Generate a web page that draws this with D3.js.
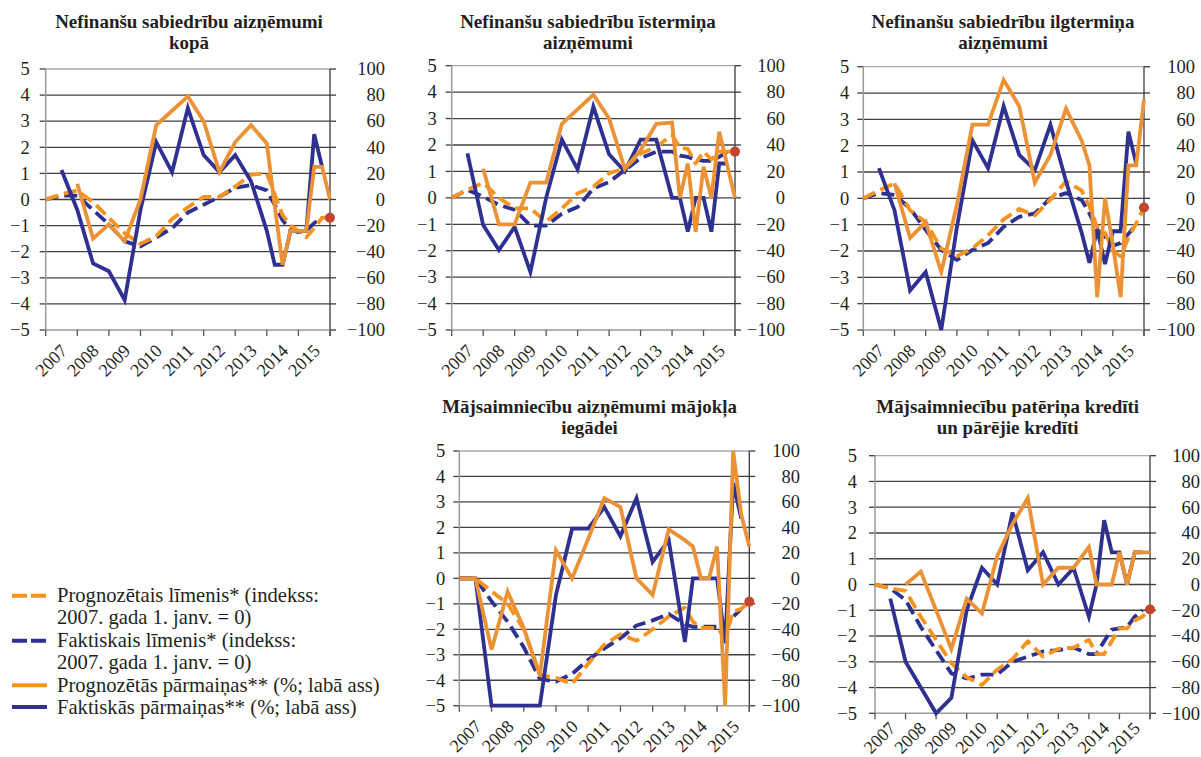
<!DOCTYPE html>
<html><head><meta charset="utf-8">
<script src="https://cdn.jsdelivr.net/npm/d3@7"></script>
<style>
body{margin:0;background:#fff}
svg{display:block}
text{font-family:"Liberation Serif","Times New Roman",serif;fill:#231f20}
</style>
</head><body>
<svg id="c" width="1201" height="757"></svg>
<script>
// ---- data ----
const dates = [2007,2007.5,2008,2008.5,2009,2009.5,2010,2010.5,2011,2011.5,2012,2012.5,2013,2013.5,2014,2014.25,2014.5,2014.75,2015,2015.25,2015.5,2015.75,2016];
const yearLabels = ["2007","2008","2009","2010","2011","2012","2013","2014","2015"];
const leftTicks = [-5,-4,-3,-2,-1,0,1,2,3,4,5];
const rightTicks = [-100,-80,-60,-40,-20,0,20,40,60,80,100];

const kopaTitle = ["Nefinanšu sabiedrību aizņēmumi","kopā"];
const kopaFcLevel = [0,0.2,0.35,-0.1,-0.7,-1.3,-1.7,-1.4,-0.75,-0.3,0.1,0.1,0.5,0.95,1.0,0.2,-0.6,-1.0,-1.2,-1.45,-1.1,-0.7,-0.7];
const kopaActLevel = [0,0.15,0.15,-0.4,-0.95,-1.6,-1.8,-1.45,-1.1,-0.5,-0.2,0.1,0.45,0.55,0.35,-0.2,-0.8,-1.15,-1.25,-1.2,-0.9,-0.7,null];
const kopaFcChange = [null,null,12,-30,-19,-32,0,57,68,79,60,21,44,57,43,-5,-50,-24,-24,-24,25,25,0];
const kopaActChange = [null,22.6,-8,-49,-55,-77,-8,44,21,70,34,21,34,14,-24,-50,-50,-24,-24,-24,50,25,null];

const istTitle = ["Nefinanšu sabiedrību īstermiņa","aizņēmumi"];
const istFcLevel = [0,0.3,0.57,0.0,-0.4,-0.4,-0.9,-0.4,0.17,0.42,0.93,1.12,1.68,1.93,2.38,1.9,1.85,1.3,1.75,1.45,1.75,1.75,1.75];
const istActLevel = [0,0.3,0.05,-0.27,-0.45,-1.05,-1.05,-0.6,-0.35,0.35,0.6,1.05,1.5,1.75,1.75,1.6,1.55,1.45,1.4,1.4,1.55,1.75,null];
const istFcChange = [null,null,22,-20,-20,11.5,11.5,56,67,78,60,22,36,56,57,0,26,-25.6,23.6,0,50,25,0];
const istActChange = [null,33.7,-20.6,-39.5,-22,-56,0,44,21.6,69,33,20,44,44,0,0,-25.6,0,0,-25.6,26,26,null];

const ilgTitle = ["Nefinanšu sabiedrību ilgtermiņa","aizņēmumi"];
const ilgFcLevel = [0,0.3,0.57,-0.45,-0.9,-1.9,-2.2,-1.9,-1.4,-0.8,-0.4,-0.65,-0.05,0.65,0.3,-0.3,-1.1,-1.3,-2.0,-2.2,-1.5,-0.95,-0.35];
const ilgActLevel = [0,0.2,0.13,-0.38,-1.2,-1.96,-2.34,-1.96,-1.7,-1.08,-0.7,-0.57,0,0.2,-0.06,-0.57,-1.2,-1.45,-1.8,-1.7,-1.35,-1.0,null];
const ilgFcChange = [null,null,11.4,-30,-18,-56,-5,56,56,90,70,12,33,68,44,25,-75,0,-35,-75,25,25,75];
const ilgActChange = [null,23,-9,-70,-56,-100,-22,44,23,70,33,21.5,56,13,-26,-49,-23.5,-50,-25,-25,50.6,26.6,null];

const majTitle = ["Mājsaimniecību aizņēmumi mājokļa","iegādei"];
const majFcLevel = [0,0,-0.5,-1.0,-2.0,-3.8,-3.9,-4.15,-3.35,-2.6,-2.2,-2.45,-2.0,-1.5,-1.15,-1.7,-1.95,-1.95,-1.95,-2.3,-1.3,-1.2,-0.92];
const majActLevel = [0,0,-0.9,-1.7,-2.7,-3.95,-4.05,-3.75,-3.2,-2.75,-2.35,-1.85,-1.65,-1.4,-1.8,-1.9,-1.9,-1.9,-1.9,-2.0,-1.5,-1.2,null];
const majFcChange = [0,0,-56,-10.5,-39,-76,22,0,31,63,56,0,-13,38.5,30,25,0,0,25,-100,100,50,25];
const majActChange = [0,0,-100,-100,-100,-100,-13,39,39,56,33,63,13,30,-50,0,0,0,0,-51,75,47,null];

const patTitle = ["Mājsaimniecību patēriņa kredīti","un pārējie kredīti"];
const patFcLevel = [0,-0.15,-0.25,-1.25,-2.15,-3.05,-3.6,-3.9,-3.3,-2.9,-2.2,-2.8,-2.5,-2.45,-2.15,-2.7,-2.7,-2.2,-1.7,-1.7,-1.4,-1.25,-0.97];
const patActLevel = [0,-0.15,-0.6,-1.65,-2.55,-3.45,-3.65,-3.5,-3.5,-3.0,-2.8,-2.6,-2.55,-2.45,-2.7,-2.7,-2.2,-1.75,-1.7,-1.65,-1.25,-1.0,null];
const patFcChange = [null,null,0,10,-20,-50,-11,-22.5,22,47,67,0,13,13,29,0,0,0,25,0,25,25,25];
const patActChange = [null,-11,-60,-80,-100,-88,-20,13,0,56,11,25,0,12.6,-25,0,50,25,25,0,25,25,null];

const legendLabels = [
  ["Prognozētais līmenis* (indekss:","2007. gada 1. janv. = 0)"],
  ["Faktiskais līmenis* (indekss:","2007. gada 1. janv. = 0)"],
  ["Prognozētās pārmaiņas** (%; labā ass)"],
  ["Faktiskās pārmaiņas** (%; labā ass)"]
];

// ---- layout & style ----
const ORANGE_D = "#F7941D", ORANGE_S = "#EC9236", BLUE = "#2E3192", RED = "#C2452D";
const GRID = "#404040", AXISG = "#9a9a9a", RAXIS = "#3a3a3a";

const panels = [
  {title:kopaTitle, fl:kopaFcLevel, al:kopaActLevel, fc:kopaFcChange, ac:kopaActChange,
   x0:45.7, x1:330, yT:69, yB:330, tx:189, ty:28, tw:268, lOff:16, rEnd:385, lbY:22},
  {title:istTitle, fl:istFcLevel, al:istActLevel, fc:istFcChange, ac:istActChange,
   x0:451.7, x1:735, yT:65.7, yB:330, tx:588, ty:28, tw:256, lOff:15, rEnd:785, lbY:22},
  {title:ilgTitle, fl:ilgFcLevel, al:ilgActLevel, fc:ilgFcChange, ac:ilgActChange,
   x0:863.3, x1:1144, yT:66.7, yB:330, tx:1003, ty:28, tw:263, lOff:14, rEnd:1195, lbY:22},
  {title:majTitle, fl:majFcLevel, al:majActLevel, fc:majFcChange, ac:majActChange,
   x0:459.3, x1:749.3, yT:451, yB:705.7, tx:589.5, ty:412.7, tw:295, lOff:14, rEnd:800, lbY:22},
  {title:patTitle, fl:patFcLevel, al:patActLevel, fc:patFcChange, ac:patActChange,
   x0:875, x1:1150, yT:455.7, yB:713.3, tx:1007.7, ty:412.7, tw:263, lOff:18, rEnd:1200, lbY:16}
];

const svg = d3.select("#c");
const fmt = v => (v < 0 ? "\u2212" + Math.abs(v) : String(v));

panels.forEach(p => {
  const g = svg.append("g");
  const x = d3.scaleLinear().domain([2007, 2016]).range([p.x0, p.x1]);
  const yL = d3.scaleLinear().domain([-5, 5]).range([p.yB, p.yT]);
  const yR = d3.scaleLinear().domain([-100, 100]).range([p.yB, p.yT]);

  // title (font size fitted so the first line matches the reference width)
  const tl = p.title.map((t, i) => g.append("text").attr("x", p.tx).attr("y", p.ty + i * 20.8)
      .attr("text-anchor", "middle").attr("font-weight", "bold").attr("font-size", 19).text(t));
  const w0 = tl[0].node().getComputedTextLength();
  let fs = w0 > 0 ? 19 * p.tw / w0 : 19;
  fs = Math.max(17, Math.min(21, fs));
  tl.forEach(t => t.attr("font-size", fs));

  // grid lines + left ticks
  leftTicks.forEach(t => {
    if (t === -5) return;
    g.append("line").attr("x1", p.x0).attr("x2", p.x1).attr("y1", yL(t)).attr("y2", yL(t))
      .attr("stroke", t === 5 ? "#a8a8a8" : GRID).attr("stroke-width", 1.3);
  });
  leftTicks.forEach(t => {
    g.append("line").attr("x1", p.x0 - 6).attr("x2", p.x0).attr("y1", yL(t)).attr("y2", yL(t))
      .attr("stroke", GRID).attr("stroke-width", 1.3);
    g.append("text").attr("x", p.x0 - p.lOff).attr("y", yL(t)).attr("dy", "0.34em")
      .attr("text-anchor", "end").attr("font-size", 18.5).text(fmt(t));
  });
  rightTicks.forEach(t => {
    g.append("line").attr("x1", p.x1).attr("x2", p.x1 + 6).attr("y1", yR(t)).attr("y2", yR(t))
      .attr("stroke", RAXIS).attr("stroke-width", 1.3);
    g.append("text").attr("x", p.rEnd).attr("y", yR(t)).attr("dy", "0.34em")
      .attr("text-anchor", "end").attr("font-size", 18.5).text(fmt(t));
  });
  // axes lines
  g.append("line").attr("x1", p.x0).attr("x2", p.x0).attr("y1", p.yT).attr("y2", p.yB)
    .attr("stroke", AXISG).attr("stroke-width", 1.5);
  g.append("line").attr("x1", p.x1).attr("x2", p.x1).attr("y1", p.yT).attr("y2", p.yB + 6)
    .attr("stroke", RAXIS).attr("stroke-width", 1.3);
  g.append("line").attr("x1", p.x0).attr("x2", p.x1).attr("y1", p.yB).attr("y2", p.yB)
    .attr("stroke", AXISG).attr("stroke-width", 1.5);
  d3.range(2007, 2017).forEach(yr => {
    g.append("line").attr("x1", x(yr)).attr("x2", x(yr)).attr("y1", p.yB).attr("y2", p.yB + 6)
      .attr("stroke", "#555").attr("stroke-width", 1.3);
  });
  yearLabels.forEach((lab, i) => {
    const ax = x(2008 + i) - 9, ay = p.yB + p.lbY;
    g.append("text").attr("transform", `translate(${ax},${ay}) rotate(-45)`)
      .attr("text-anchor", "end").attr("font-size", 18).text(lab);
  });

  // series
  const pts = arr => dates.map((d, i) => [d, arr[i]]);
  const lineL = d3.line().defined(d => d[1] != null).x(d => x(d[0])).y(d => yL(d[1]));
  const lineR = d3.line().defined(d => d[1] != null).x(d => x(d[0])).y(d => yR(d[1]));

  g.append("path").attr("d", lineL(pts(p.al))).attr("fill", "none").attr("stroke", BLUE)
    .attr("stroke-width", 3.8).attr("stroke-dasharray", "13,6").attr("stroke-linejoin", "round");
  g.append("path").attr("d", lineL(pts(p.fl))).attr("fill", "none").attr("stroke", ORANGE_D)
    .attr("stroke-width", 3.8).attr("stroke-dasharray", "13,6").attr("stroke-linejoin", "round");
  g.append("path").attr("d", lineR(pts(p.ac))).attr("fill", "none").attr("stroke", BLUE)
    .attr("stroke-width", 3.8).attr("stroke-linejoin", "miter");
  g.append("path").attr("d", lineR(pts(p.fc))).attr("fill", "none").attr("stroke", ORANGE_S)
    .attr("stroke-width", 3.8).attr("stroke-linejoin", "miter");

  const last = dates.length - 1;
  g.append("circle").attr("cx", x(dates[last])).attr("cy", yL(p.fl[last])).attr("r", 5)
    .attr("fill", RED);
});

// legend
const legY = [595.7, 640.7, 685.2, 707];
const legStyle = [
  {c: ORANGE_D, dash: "15,4"}, {c: BLUE, dash: "15,4"}, {c: ORANGE_D, dash: null}, {c: BLUE, dash: null}
];
const lg = svg.append("g");
const legTexts = [];
legendLabels.forEach((lines, i) => {
  const l = lg.append("line").attr("x1", 12).attr("x2", 47).attr("y1", legY[i]).attr("y2", legY[i])
    .attr("stroke", legStyle[i].c).attr("stroke-width", 4);
  if (legStyle[i].dash) l.attr("stroke-dasharray", legStyle[i].dash);
  lines.forEach((t, j) => {
    legTexts.push({i, t: lg.append("text").attr("x", 57).attr("y", legY[i] + 6.5 + j * 21.3)
      .attr("font-size", 20.5).text(t)});
  });
});
// fit legend font so that the longest entry approaches the reference width (57 -> 383)
const refNode = legTexts.find(d => d.i === 2).t.node();
const lw = refNode.getComputedTextLength();
let lfs = lw > 0 ? 20.5 * 326 / lw : 20.5;
lfs = Math.max(18, Math.min(20.6, lfs));
legTexts.forEach(d => d.t.attr("font-size", lfs));
</script>
</body></html>
